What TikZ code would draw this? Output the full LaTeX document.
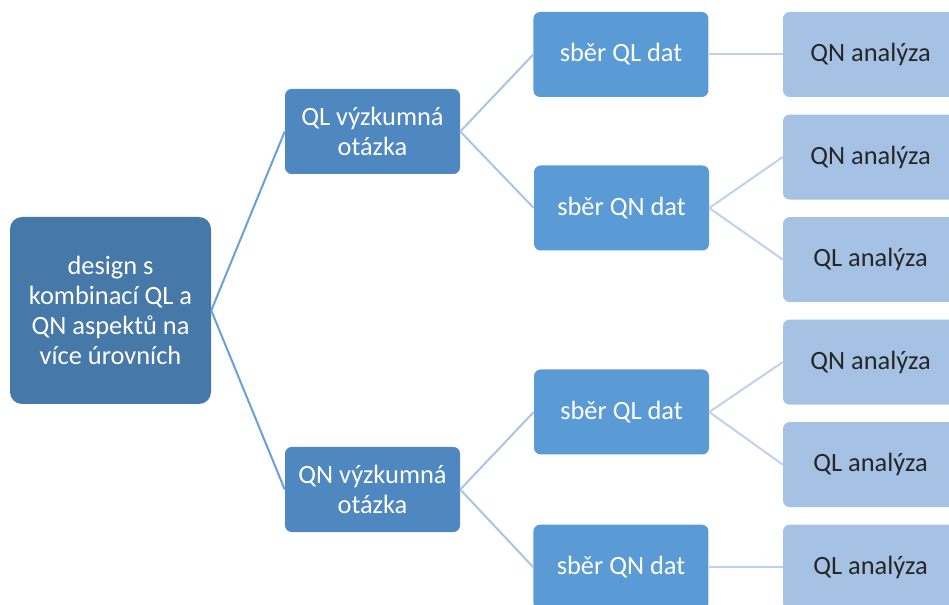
\documentclass[tikz,border=0pt]{standalone}
\usepackage{fontspec}
\setmainfont{Carlito}
\usetikzlibrary{positioning}
\definecolor{rootblue}{HTML}{4679A8}
\definecolor{qblue}{HTML}{4F88C0}
\definecolor{dblue}{HTML}{5B9BD5}
\definecolor{ablue}{HTML}{A5C1E4}
\definecolor{linkA}{HTML}{6A9FD8}
\definecolor{linkB}{HTML}{A9C5E6}
\definecolor{linkC}{HTML}{BDD2EC}

\begin{document}
\begin{tikzpicture}[
  x=0.75pt, y=-0.75pt,
  node distance=12.75pt and 55.5pt,
  box/.style={rounded corners=5pt, align=center, minimum width=131.25pt, minimum height=63.75pt, inner sep=2pt, font=\fontsize{19.8}{22.3}\selectfont, text=white},
  rootbox/.style={box, fill=rootblue, minimum width=150.75pt, minimum height=140.25pt, rounded corners=9pt},
  qbox/.style={box, fill=qblue},
  databox/.style={box, fill=dblue},
  anbox/.style={box, fill=ablue, text=black!85},
  link/.style={line width=1.5pt}
]
\useasboundingbox (0,0) rectangle (949,605);
\clip (0,0) rectangle (949,605);

\node[rootbox] (design) at (110.5,310.5) {design s\\kombinací QL a\\QN aspektů na\\více úrovních};
\node[qbox] (qlq) at (372.5,131.5) {QL výzkumná\\otázka};
\node[qbox] (qnq) at (372.5,489.5) {QN výzkumná\\otázka};

% analysis column
\node[anbox] (an1) at (870.5,54.5) {QN analýza};
\node[anbox, below=of an1] (an2) {QN analýza};
\node[anbox, below=of an2] (an3) {QL analýza};
\node[anbox, below=of an3] (an4) {QN analýza};
\node[anbox, below=of an4] (an5) {QL analýza};
\node[anbox, below=of an5] (an6) {QL analýza};

% data collection
\node[databox, left=of an1] (ql1) {sběr QL dat};
\node[databox] (qn1) at (621.5,208) {sběr QN dat};
\node[databox] (ql2) at (621.5,412) {sběr QL dat};
\node[databox, left=of an6] (qn2) {sběr QN dat};

\draw[link, linkA] (design.east) -- (qlq.west);
\draw[link, linkA] (design.east) -- (qnq.west);
\draw[link, linkB] (qlq.east) -- (ql1.west);
\draw[link, linkB] (qlq.east) -- (qn1.west);
\draw[link, linkB] (qnq.east) -- (ql2.west);
\draw[link, linkB] (qnq.east) -- (qn2.west);
\draw[link, linkC] (ql1.east) -- (an1.west);
\draw[link, linkC] (qn1.east) -- (an2.west);
\draw[link, linkC] (qn1.east) -- (an3.west);
\draw[link, linkC] (ql2.east) -- (an4.west);
\draw[link, linkC] (ql2.east) -- (an5.west);
\draw[link, linkC] (qn2.east) -- (an6.west);
\end{tikzpicture}
\end{document}
